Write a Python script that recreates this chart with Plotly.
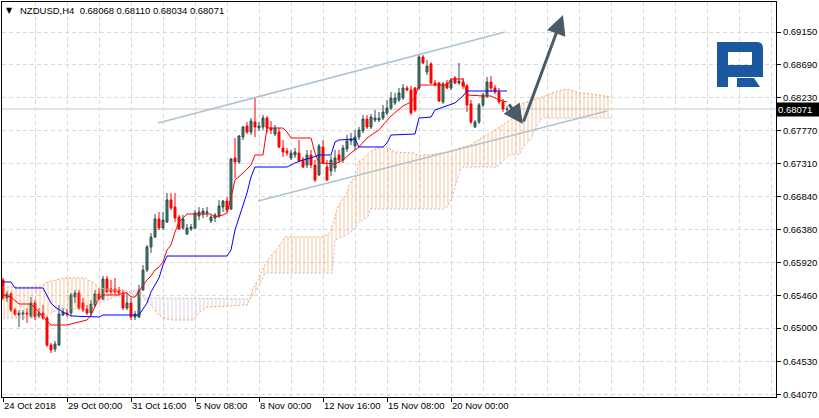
import plotly.graph_objects as go

# ---------------- data ----------------
symbol_title = "NZDUSD,H4  0.68068 0.68110 0.68034 0.68071"
last_price = 0.68071

bars = list(range(127))
opens = [0.65674,0.65421,0.65478,0.65253,0.65183,0.65197,0.65211,0.65169,0.65351,0.65169,
         0.65211,0.65141,0.64762,0.64706,0.64762,0.65183,0.65211,0.65211,0.65435,0.65492,
         0.65351,0.65267,0.65211,0.65323,0.65478,0.65407,0.65688,0.65548,0.65548,0.65534,
         0.65492,0.65281,0.65351,0.65155,0.65155,0.65534,0.65814,0.66137,0.66277,0.66529,
         0.66403,0.66487,0.66796,0.66697,0.66557,0.66403,0.66319,0.66389,0.66403,0.66571,
         0.66599,0.66613,0.66501,0.66543,0.66571,0.66697,0.66782,0.66669,0.67385,0.67328,
         0.67679,0.67833,0.67749,0.67889,0.67805,0.67819,0.67945,0.67805,0.67721,0.67749,
         0.67525,0.67483,0.67385,0.67427,0.67455,0.67356,0.67286,0.67427,0.67286,0.67146,
         0.67539,0.67258,0.67202,0.67244,0.67427,0.67356,0.67511,0.67623,0.67553,0.67679,
         0.67763,0.67931,0.67819,0.67917,0.67917,0.67945,0.68016,0.68086,0.68156,0.68198,
         0.68226,0.68366,0.68338,0.68366,0.68366,0.68801,0.68590,0.68703,0.68436,0.68436,
         0.68170,0.68436,0.68366,0.68506,0.68436,0.68450,0.68394,0.68142,0.67819,0.67889,
         0.68128,0.68254,0.68450,0.68366,0.68310,0.68170,0.68068]
highs = [0.65702,0.65520,0.65506,0.65281,0.65253,0.65253,0.65281,0.65435,0.65393,0.65281,
         0.65323,0.65169,0.64790,0.64818,0.65323,0.65281,0.65267,0.65492,0.65534,0.65534,
         0.65421,0.65323,0.65393,0.65534,0.65562,0.65730,0.65730,0.65674,0.65702,0.65576,
         0.65534,0.65492,0.65421,0.65239,0.65604,0.65884,0.66165,0.66333,0.66599,0.66627,
         0.66627,0.66894,0.66894,0.66894,0.66585,0.66585,0.66459,0.66459,0.66655,0.66697,
         0.66683,0.66697,0.66585,0.66613,0.66796,0.66796,0.66838,0.67385,0.67665,0.67707,
         0.67833,0.67889,0.67945,0.68240,0.67889,0.67987,0.67973,0.67903,0.67847,0.67805,
         0.67637,0.67525,0.67497,0.67525,0.67637,0.67399,0.67497,0.67497,0.67356,0.67581,
         0.67637,0.67356,0.67413,0.67497,0.67497,0.67567,0.67707,0.67735,0.67777,0.67819,
         0.67987,0.67987,0.68001,0.68058,0.68030,0.68128,0.68198,0.68310,0.68296,0.68366,
         0.68422,0.68394,0.68394,0.68380,0.68829,0.68829,0.68759,0.68731,0.68478,0.68450,
         0.68450,0.68478,0.68506,0.68534,0.68717,0.68506,0.68422,0.68198,0.67917,0.68156,
         0.68296,0.68520,0.68534,0.68408,0.68366,0.68212,0.68110]
lows = [0.65393,0.65365,0.65225,0.65169,0.65015,0.65113,0.65071,0.65141,0.65113,0.65141,
        0.65113,0.64734,0.64650,0.64664,0.64748,0.65169,0.65155,0.65169,0.65351,0.65253,
        0.65225,0.65183,0.65169,0.65295,0.65393,0.65393,0.65492,0.65478,0.65478,0.65464,
        0.65253,0.65253,0.65113,0.65113,0.65141,0.65520,0.65786,0.66052,0.66263,0.66375,
        0.66375,0.66473,0.66655,0.66487,0.66375,0.66375,0.66305,0.66361,0.66389,0.66515,
        0.66543,0.66557,0.66473,0.66487,0.66543,0.66627,0.66627,0.66655,0.67104,0.67300,
        0.67637,0.67721,0.67707,0.67679,0.67763,0.67777,0.67735,0.67721,0.67693,0.67525,
        0.67399,0.67413,0.67356,0.67385,0.67328,0.67244,0.67244,0.67244,0.67048,0.67132,
        0.67300,0.67062,0.67132,0.67188,0.67314,0.67314,0.67469,0.67567,0.67497,0.67637,
        0.67735,0.67791,0.67791,0.67889,0.67889,0.67917,0.67987,0.68058,0.68128,0.68170,
        0.68198,0.68324,0.67987,0.68030,0.68338,0.68703,0.68548,0.68422,0.68394,0.68170,
        0.68142,0.68352,0.68338,0.68422,0.68408,0.68352,0.68030,0.67861,0.67805,0.67861,
        0.68100,0.68226,0.68310,0.68282,0.68142,0.68030,0.68034]
closes = [0.65421,0.65478,0.65253,0.65197,0.65211,0.65211,0.65197,0.65351,0.65155,0.65211,
          0.65141,0.64762,0.64692,0.64776,0.65197,0.65225,0.65197,0.65464,0.65492,0.65281,
          0.65253,0.65211,0.65337,0.65478,0.65407,0.65688,0.65506,0.65506,0.65506,0.65492,
          0.65281,0.65351,0.65155,0.65197,0.65534,0.65814,0.66137,0.66277,0.66529,0.66403,
          0.66515,0.66796,0.66683,0.66543,0.66389,0.66529,0.66403,0.66417,0.66613,0.66627,
          0.66641,0.66627,0.66557,0.66585,0.66711,0.66782,0.66655,0.67371,0.67328,0.67693,
          0.67819,0.67749,0.67903,0.67819,0.67833,0.67945,0.67805,0.67777,0.67805,0.67539,
          0.67469,0.67455,0.67455,0.67469,0.67342,0.67258,0.67427,0.67286,0.67076,0.67553,
          0.67314,0.67076,0.67356,0.67385,0.67356,0.67525,0.67623,0.67651,0.67679,0.67777,
          0.67931,0.67819,0.67959,0.67945,0.67945,0.68030,0.68086,0.68226,0.68226,0.68296,
          0.68366,0.68338,0.68016,0.68058,0.68801,0.68717,0.68675,0.68436,0.68408,0.68184,
          0.68422,0.68366,0.68478,0.68436,0.68464,0.68394,0.68128,0.67889,0.67889,0.68128,
          0.68268,0.68450,0.68366,0.68310,0.68170,0.68072,0.68071]

# Ichimoku lines (bar index, price)
tenkan_x = [0,2,4,7,8,9,11,12,16,17,19,21,22,23,24,25,29,30,31,32,33,34,35,36,37,38,39,40,41,42,
            43,44,46,52,53,55,56,57,58,60,62,63,65,66,70,71,72,77,78,79,83,85,87,89,91,94,95,97,
            100,102,103,104,111,112,115,116,120,122,124,126]
tenkan_y = [0.65464,0.65435,0.65337,0.65337,0.65281,0.65225,0.65113,0.65043,0.65043,0.65057,
            0.65085,0.65113,0.65183,0.65295,0.65421,0.65464,0.65464,0.65492,0.65492,0.65435,
            0.65435,0.65520,0.65604,0.65674,0.65730,0.65814,0.65856,0.65926,0.66095,0.66165,
            0.66347,0.66487,0.66599,0.66599,0.66557,0.66585,0.66613,0.66824,0.67076,0.67174,
            0.67286,0.67427,0.67427,0.67805,0.67805,0.67749,0.67665,0.67665,0.67455,0.67315,
            0.67300,0.67357,0.67455,0.67539,0.67665,0.67777,0.67847,0.67973,0.68114,0.68170,
            0.68240,0.68408,0.68408,0.68492,0.68492,0.68268,0.68254,0.68254,0.68198,0.68170]
kijun_x = [0,2,3,10,12,13,15,17,24,25,34,36,37,39,40,41,56,57,58,59,61,62,63,71,73,75,77,79,82,
           83,84,88,89,95,96,97,103,104,107,108,110,113,115,116,126]
kijun_y = [0.65646,0.65646,0.65562,0.65562,0.65351,0.65295,0.65225,0.65169,0.65155,0.65183,
           0.65183,0.65351,0.65506,0.65702,0.65884,0.66010,0.66010,0.66095,0.66375,0.66557,
           0.66894,0.67118,0.67258,0.67258,0.67315,0.67357,0.67385,0.67427,0.67427,0.67609,
           0.67637,0.67651,0.67539,0.67539,0.67595,0.67707,0.67721,0.67945,0.67959,0.68058,
           0.68100,0.68156,0.68254,0.68324,0.68324]
span_a_x = [0,9,10.5,13,15,20.5,23,24.25,27,30.5,31.25,32.5,36,37,38.5,40,42.25,47.5,49.25,51,
            61,61.75,62.5,63.75,65.5,66.75,69.25,70.5,80,81.75,83,83.75,84.75,86,86.75,88.5,
            88.75,89.75,91.75,93.5,96,98,102.5,103.5,106.75,109.25,111.75,114.25,116.75,119.25,
            121.75,124.25,126.75,128,130,135,138,141,143.5,148.5,152]
span_a_y = [0.65576,0.65576,0.65632,0.65674,0.65702,0.65702,0.65618,0.65562,0.65534,0.65534,
            0.65506,0.65464,0.65393,0.65323,0.65211,0.65141,0.65113,0.65113,0.65225,0.65295,
            0.65323,0.65408,0.65562,0.65674,0.65884,0.65996,0.66165,0.66277,0.66277,0.66333,
            0.66557,0.66697,0.66796,0.66908,0.67034,0.67146,0.67329,0.67357,0.67469,0.67525,
            0.67539,0.67469,0.67455,0.67427,0.67427,0.67455,0.67469,0.67525,0.67567,0.67651,
            0.67735,0.67819,0.67917,0.67959,0.68156,0.68240,0.68310,0.68352,0.68310,0.68268,
            0.68240]
span_b_x = [0,10,11,14,21,23,26,30,31.25,32,34,35.5,61,61.75,63.5,65.5,82.25,83,86,88,88.75,
            91.25,91.75,110,111,112.25,113,114.25,115,123.5,124.25,126.75,129.25,130,131.75,
            134.25,135,152]
span_b_y = [0.65141,0.65141,0.65183,0.65267,0.65267,0.65337,0.65393,0.65478,0.65506,0.65520,
            0.65520,0.65422,0.65408,0.65408,0.65534,0.65772,0.65772,0.66235,0.66305,0.66403,
            0.66473,0.66557,0.66669,0.66669,0.66697,0.66824,0.66978,0.67216,0.67258,0.67258,
            0.67315,0.67427,0.67441,0.67539,0.67637,0.67917,0.67945,0.67945]
# cloud segments: (start bar, end bar, which span is on top)
cloud_segments = [(0, 31.25, "A"), (31.25, 61.75, "B"), (61.75, 152, "A")]

# hand-drawn objects (bar index, price)
channel_upper = [(38.75, 0.67875), (125.5, 0.69151)]
channel_lower = [(63.75, 0.66782), (151.0, 0.68044)]
arrow_down = [(126.25, 0.68156), (130.0, 0.67861)]
arrow_up = [(130.0, 0.67875), (140.0, 0.69390)]

x_tick_pos = [0, 16, 32, 48, 64, 80, 96, 112]
x_tick_labels = ["24 Oct 2018", "29 Oct 00:00", "31 Oct 16:00", "5 Nov 08:00",
                 "8 Nov 00:00", "12 Nov 16:00", "15 Nov 08:00", "20 Nov 00:00"]
x_grid_minor = [8, 24, 40, 56, 72, 88, 104, 120, 128, 136, 144, 152, 160, 168, 176, 184, 192]
y_tick_labels = ["0.69150", "0.68690", "0.68230", "0.67770", "0.67310", "0.66840",
                 "0.66380", "0.65920", "0.65460", "0.65000", "0.64530", "0.64070"]

# ---------------- styling ----------------
FONT = "Liberation Sans"
SANDY = "#f4a460"
THISTLE = "#cdb5d6"
GRID = "#d9d9d9"
W, H = 819, 418
ML, MR, MT, MB = 2, 43, 2, 21

fig = go.Figure()

# cloud hatching
for lo, hi, top in cloud_segments:
    ax_ = [x for x in span_a_x if lo <= x <= hi]
    ay_ = [y for x, y in zip(span_a_x, span_a_y) if lo <= x <= hi]
    bx_ = [x for x in span_b_x if lo <= x <= hi]
    by_ = [y for x, y in zip(span_b_x, span_b_y) if lo <= x <= hi]
    col = SANDY if top == "A" else THISTLE
    fig.add_trace(go.Scatter(x=bx_, y=by_, mode="lines", line=dict(width=0, color=col),
                             hoverinfo="skip"))
    fig.add_trace(go.Scatter(
        x=ax_, y=ay_, mode="lines", line=dict(width=0, color=col), fill="tonexty",
        fillcolor="rgba(0,0,0,0)", hoverinfo="skip",
        fillpattern=dict(shape="|", size=4, solidity=0.25, fgcolor=col,
                         fgopacity=0.65, fillmode="replace")))

fig.add_trace(go.Scatter(x=span_a_x, y=span_a_y, mode="lines", hoverinfo="skip",
                         line=dict(color=SANDY, width=1, dash="2px,2px")))
fig.add_trace(go.Scatter(x=span_b_x, y=span_b_y, mode="lines", hoverinfo="skip",
                         line=dict(color=THISTLE, width=1, dash="2px,2px")))

fig.add_trace(go.Candlestick(
    x=bars, open=opens, high=highs, low=lows, close=closes, hoverinfo="skip",
    whiskerwidth=0,
    increasing=dict(line=dict(color="#2f4f4f", width=1), fillcolor="#3f7f62"),
    decreasing=dict(line=dict(color="#ff0000", width=1), fillcolor="#ff0000")))

fig.add_trace(go.Scatter(x=tenkan_x, y=tenkan_y, mode="lines", hoverinfo="skip",
                         line=dict(color="#ff0000", width=1)))
fig.add_trace(go.Scatter(x=kijun_x, y=kijun_y, mode="lines", hoverinfo="skip",
                         line=dict(color="#0000ff", width=1)))

shapes = []
# bid line
shapes.append(dict(type="line", xref="paper", x0=0, x1=1, yref="y", y0=last_price, y1=last_price,
                   line=dict(color="#c8c8c8", width=1), layer="below"))
# channel lines
for (x0, y0), (x1, y1) in (channel_upper, channel_lower):
    shapes.append(dict(type="line", xref="x", yref="y", x0=x0, y0=y0, x1=x1, y1=y1,
                       line=dict(color="#aec3d1", width=1.6), layer="above"))


# logo (pixel geometry -> paper coordinates)
def to_paper(px, py):
    pw = W - ML - MR
    ph = H - MT - MB
    return (px - ML) / pw, (H - MB - py) / ph


def build_path(cmds):
    out = []
    for c in cmds:
        op, nums = c[0], c[1:]
        parts = [op]
        for k in range(0, len(nums), 2):
            x, y = to_paper(nums[k], nums[k + 1])
            parts.append(f"{x:.5f},{y:.5f}")
        out.append(" ".join(parts))
    return " ".join(out)


logo_body = [("M", 717, 42), ("L", 757, 42), ("Q", 763, 42, 763, 48), ("L", 763, 77),
             ("L", 728, 77), ("L", 728, 87), ("L", 717, 87), ("Z",),
             ("M", 728, 52), ("L", 728, 65), ("L", 752, 65), ("L", 752, 52), ("Z",)]
logo_leg = [("M", 737, 78), ("L", 754, 78), ("L", 760, 87), ("L", 737, 87), ("Z",)]
for p in (logo_body, logo_leg):
    shapes.append(dict(type="path", xref="paper", yref="paper", path=build_path(p),
                       fillcolor="#1a58a2", line=dict(width=0), layer="above"))

annotations = []
for (tx, ty), (hx, hy) in (arrow_down, arrow_up):
    annotations.append(dict(x=hx, y=hy, ax=tx, ay=ty, xref="x", yref="y", axref="x", ayref="y",
                            text="", showarrow=True, arrowhead=2, arrowsize=1.3,
                            arrowwidth=3, arrowcolor="#4a5a66", standoff=0))
# title
tx, ty = to_paper(9.5, 10)
annotations.append(dict(x=tx, y=ty, xref="paper", yref="paper", text="▼", showarrow=False,
                        xanchor="center", yanchor="middle",
                        font=dict(family="DejaVu Sans", size=8, color="black")))
tx, ty = to_paper(18, 10)
annotations.append(dict(x=tx, y=ty, xref="paper", yref="paper", text=symbol_title,
                        showarrow=False, xanchor="left", yanchor="middle",
                        font=dict(family=FONT, size=9.5, color="black")))
# price box
annotations.append(dict(x=1, y=last_price, xref="paper", yref="y", text=f"{last_price:.5f}",
                        showarrow=False, xanchor="left", yanchor="middle", align="left",
                        bgcolor="black", borderpad=1, width=40,
                        font=dict(family=FONT, size=9.5, color="white")))

fig.update_layout(
    width=W, height=H, margin=dict(l=ML, r=MR, t=MT, b=MB),
    paper_bgcolor="white", plot_bgcolor="white", showlegend=False, hovermode=False,
    shapes=shapes, annotations=annotations,
    font=dict(family=FONT, size=9.5, color="black"),
    xaxis=dict(range=[-0.25, 193.25], tickmode="array", tickvals=x_tick_pos,
               ticktext=x_tick_labels, ticks="outside", ticklen=4, tickcolor="black",
               ticklabelposition="outside right", tickangle=0,
               showline=True, linecolor="black", linewidth=1, mirror=True,
               showgrid=True, gridcolor=GRID, griddash="4px,3px", gridwidth=1,
               minor=dict(tickmode="array", tickvals=x_grid_minor, showgrid=True,
                          gridcolor=GRID, griddash="4px,3px", ticks=""),
               zeroline=False, rangeslider=dict(visible=False),
               tickfont=dict(family=FONT, size=9.5, color="black")),
    yaxis=dict(range=[0.64033, 0.69572], side="right", tickmode="array",
               tickvals=[float(s) for s in y_tick_labels], ticktext=y_tick_labels,
               ticks="outside", ticklen=4, tickcolor="black",
               showline=True, linecolor="black", linewidth=1, mirror=True,
               showgrid=True, gridcolor=GRID, griddash="4px,3px", gridwidth=1,
               zeroline=False, tickfont=dict(family=FONT, size=9.5, color="black")),
)

fig.write_html("out.html", config={"displayModeBar": False},
               post_script="document.body.style.margin='0px';")
